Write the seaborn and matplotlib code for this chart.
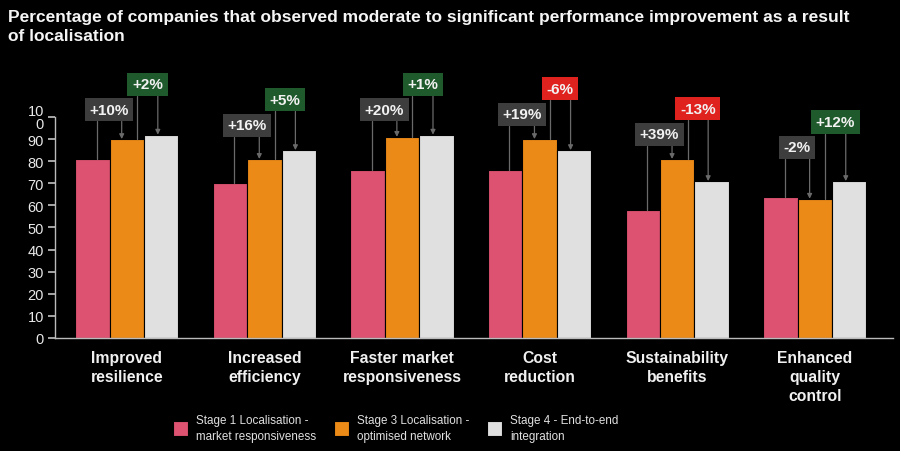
import matplotlib
matplotlib.use("Agg")
import matplotlib.pyplot as plt
import seaborn as sns
import pandas as pd
import numpy as np
from matplotlib import font_manager

categories = ["Improved\nresilience", "Increased\nefficiency", "Faster market\nresponsiveness",
              "Cost\nreduction", "Sustainability\nbenefits", "Enhanced\nquality\ncontrol"]
series_names = ["Stage 1 Localisation -\nmarket responsiveness",
                "Stage 3 Localisation -\noptimised network",
                "Stage 4 - End-to-end\nintegration"]
stage1 = [81, 70, 76, 76, 58, 64]
stage3 = [90, 81, 91, 90, 81, 63]
stage4 = [92, 85, 92, 85, 71, 71]
change_1_to_3 = ["+10%", "+16%", "+20%", "+19%", "+39%", "-2%"]
change_3_to_4 = ["+2%", "+5%", "+1%", "-6%", "-13%", "+12%"]
ytick_values = [0, 10, 20, 30, 40, 50, 60, 70, 80, 90, 100]
ytick_labels = ["0", "10", "20", "30", "40", "50", "60", "70", "80", "90", "10\n0"]

colors = ["#DC5270", "#EB8A17", "#E0E0E0"]
box_grey = "#3D3D3D"
box_green = "#1F5A2C"
box_red = "#E0221F"

rows = []
for i, c in enumerate(categories):
    for s, vals in zip(series_names, [stage1, stage3, stage4]):
        rows.append({"category": c, "series": s, "value": vals[i]})
df = pd.DataFrame(rows)

sns.set_theme(style="dark")
plt.rcParams["font.family"] = ["Liberation Sans", "DejaVu Sans"]

fig = plt.figure(figsize=(9, 4.52), dpi=100, facecolor="black")
ax = fig.add_axes([0.061, 0.25, 0.931, 0.489])
ax.set_facecolor("black")

sns.barplot(data=df, x="category", y="value", hue="series", palette=colors,
            saturation=1, width=0.75, ax=ax, edgecolor="black", linewidth=0.8, legend=True)

ax.set_ylim(0, 100)
ax.set_xlim(-0.523, 5.567)
ax.set_yticks(ytick_values)
ax.set_yticklabels(ytick_labels, color="#E8E8E8", fontsize=10.5, linespacing=0.85)
ax.set_xticks(range(len(categories)))
ax.set_xticklabels(categories, color="#F0F0F0", fontsize=11.3, fontweight="bold", linespacing=1.3)
ax.set_xlabel("")
ax.set_ylabel("")
ax.grid(False)
for side in ["top", "right"]:
    ax.spines[side].set_visible(False)
for side in ["left", "bottom"]:
    ax.spines[side].set_visible(True)
    ax.spines[side].set_color("#BBBBBB")
    ax.spines[side].set_linewidth(1.0)
ax.tick_params(axis="y", which="major", left=True, length=5, color="#BBBBBB", pad=3)
ax.tick_params(axis="x", bottom=False, pad=3)

# annotations
bw = 0.25
lift = [6, 6, 6, 6, 6, 10]
box_h = 9.5
gap = 2.0
line_col = "#6A6A6A"
for i in range(len(categories)):
    xp, xo, xg = i - bw, i, i + bw
    top = max(stage1[i], stage3[i], stage4[i])
    b1 = top + lift[i]
    b2 = b1 + box_h + gap
    x1a = xp + 0.12 * bw
    x1b = xo - 0.15 * bw
    ax.plot([x1a, x1a], [b1, stage1[i]], color=line_col, lw=0.9, clip_on=False, zorder=3)
    ax.annotate("", xy=(x1b, stage3[i]), xytext=(x1b, b1),
                arrowprops=dict(arrowstyle="-|>", color=line_col, lw=0.9,
                                mutation_scale=7, shrinkA=0, shrinkB=0),
                annotation_clip=False, zorder=3)
    ax.text((x1a + x1b) / 2, b1 + box_h / 2 + 0.5, change_1_to_3[i], ha="center", va="center",
            color="#F2F2F2", fontsize=11, fontweight="bold", clip_on=False, zorder=4,
            bbox=dict(boxstyle="square,pad=0.3", fc=box_grey, ec="none"))
    x2a = xo + 0.3 * bw
    x2b = xg - 0.1 * bw
    c2 = box_red if change_3_to_4[i].startswith("-") else box_green
    ax.plot([x2a, x2a], [b2, stage3[i]], color=line_col, lw=0.9, clip_on=False, zorder=3)
    ax.annotate("", xy=(x2b, stage4[i]), xytext=(x2b, b2),
                arrowprops=dict(arrowstyle="-|>", color=line_col, lw=0.9,
                                mutation_scale=7, shrinkA=0, shrinkB=0),
                annotation_clip=False, zorder=3)
    ax.text((x2a + x2b) / 2, b2 + box_h / 2 + 0.5, change_3_to_4[i], ha="center", va="center",
            color="#F2F2F2", fontsize=11, fontweight="bold", clip_on=False, zorder=4,
            bbox=dict(boxstyle="square,pad=0.3", fc=c2, ec="none"))

# legend
leg = ax.legend(loc="upper left", bbox_to_anchor=(0.128, -0.295), ncol=3, frameon=False,
                prop={"size": 8.4}, handlelength=1.3, handleheight=1.6, handletextpad=0.7,
                columnspacing=1.5, labelcolor="#E0E0E0")
for t in leg.get_texts():
    t.set_linespacing(1.5)

fig.text(0.009, 0.978, "Percentage of companies that observed moderate to significant performance improvement as a result\nof localisation",
         ha="left", va="top", color="#F5F5F5", fontsize=12.5, fontweight="bold", linespacing=1.35)

fig.savefig("out.png", dpi=100, facecolor="black")
